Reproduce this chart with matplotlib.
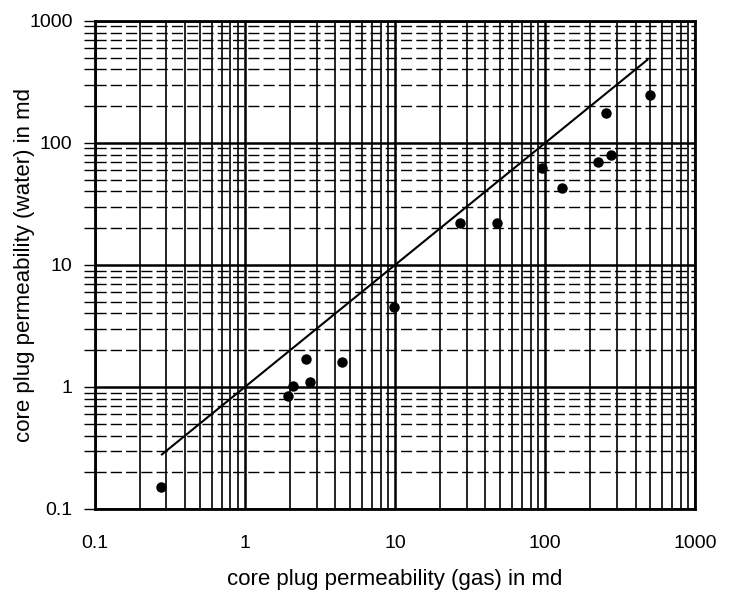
import matplotlib
matplotlib.use("Agg")
import matplotlib.pyplot as plt
from matplotlib.ticker import FixedLocator, FixedFormatter, NullFormatter

plt.rcParams['font.family'] = ['Liberation Sans', 'DejaVu Sans']

# data (gas permeability vs water permeability, md)
k_gas = [0.275, 1.95, 2.1, 2.55, 2.7, 4.4, 9.8, 27, 48, 95, 130, 225, 255, 275, 500]
k_water = [0.15, 0.85, 1.02, 1.7, 1.1, 1.6, 4.5, 22, 22, 62, 43, 70, 175, 80, 245]
line_x = [0.28, 480]
line_y = [0.28, 480]
tick_vals = [0.1, 1, 10, 100, 1000]
tick_labels = ["0.1", "1", "10", "100", "1000"]

fig = plt.figure(figsize=(7.35, 5.96), dpi=100)
ax = fig.add_axes([0.129, 0.146, 0.817, 0.819])
ax.set_xscale('log')
ax.set_yscale('log')
ax.set_xlim(0.1, 1000)
ax.set_ylim(0.1, 1000)

minor = [m * 10.0 ** e for e in range(-1, 3) for m in range(2, 10)]
ax.xaxis.set_major_locator(FixedLocator(tick_vals))
ax.yaxis.set_major_locator(FixedLocator(tick_vals))
ax.xaxis.set_major_formatter(FixedFormatter(tick_labels))
ax.yaxis.set_major_formatter(FixedFormatter(tick_labels))
ax.xaxis.set_minor_locator(FixedLocator(minor))
ax.yaxis.set_minor_locator(FixedLocator(minor))
ax.xaxis.set_minor_formatter(NullFormatter())
ax.yaxis.set_minor_formatter(NullFormatter())

ax.grid(True, which='major', axis='both', color='black', lw=1.8)
ax.grid(True, which='minor', axis='x', color='black', lw=1.2)
ax.grid(True, which='minor', axis='y', color='black', lw=1.0, linestyle=(0, (8, 3)))

ax.tick_params(axis='x', which='both', length=0, labelsize=14, pad=19)
ax.tick_params(axis='y', which='both', length=8, width=1, direction='out', labelsize=14, pad=8)

for s in ax.spines.values():
    s.set_linewidth(2)

ax.plot(line_x, line_y, color='black', lw=1.5, zorder=3)
ax.plot(k_gas, k_water, 'o', color='black', ms=6.5, zorder=4)

ax.set_xlabel("core plug permeability (gas) in md", fontsize=16, labelpad=12)
ax.set_ylabel("core plug permeability (water) in md", fontsize=16)
ax.yaxis.set_label_coords(-0.1, 0.5)

fig.savefig("out.png", dpi=100)
